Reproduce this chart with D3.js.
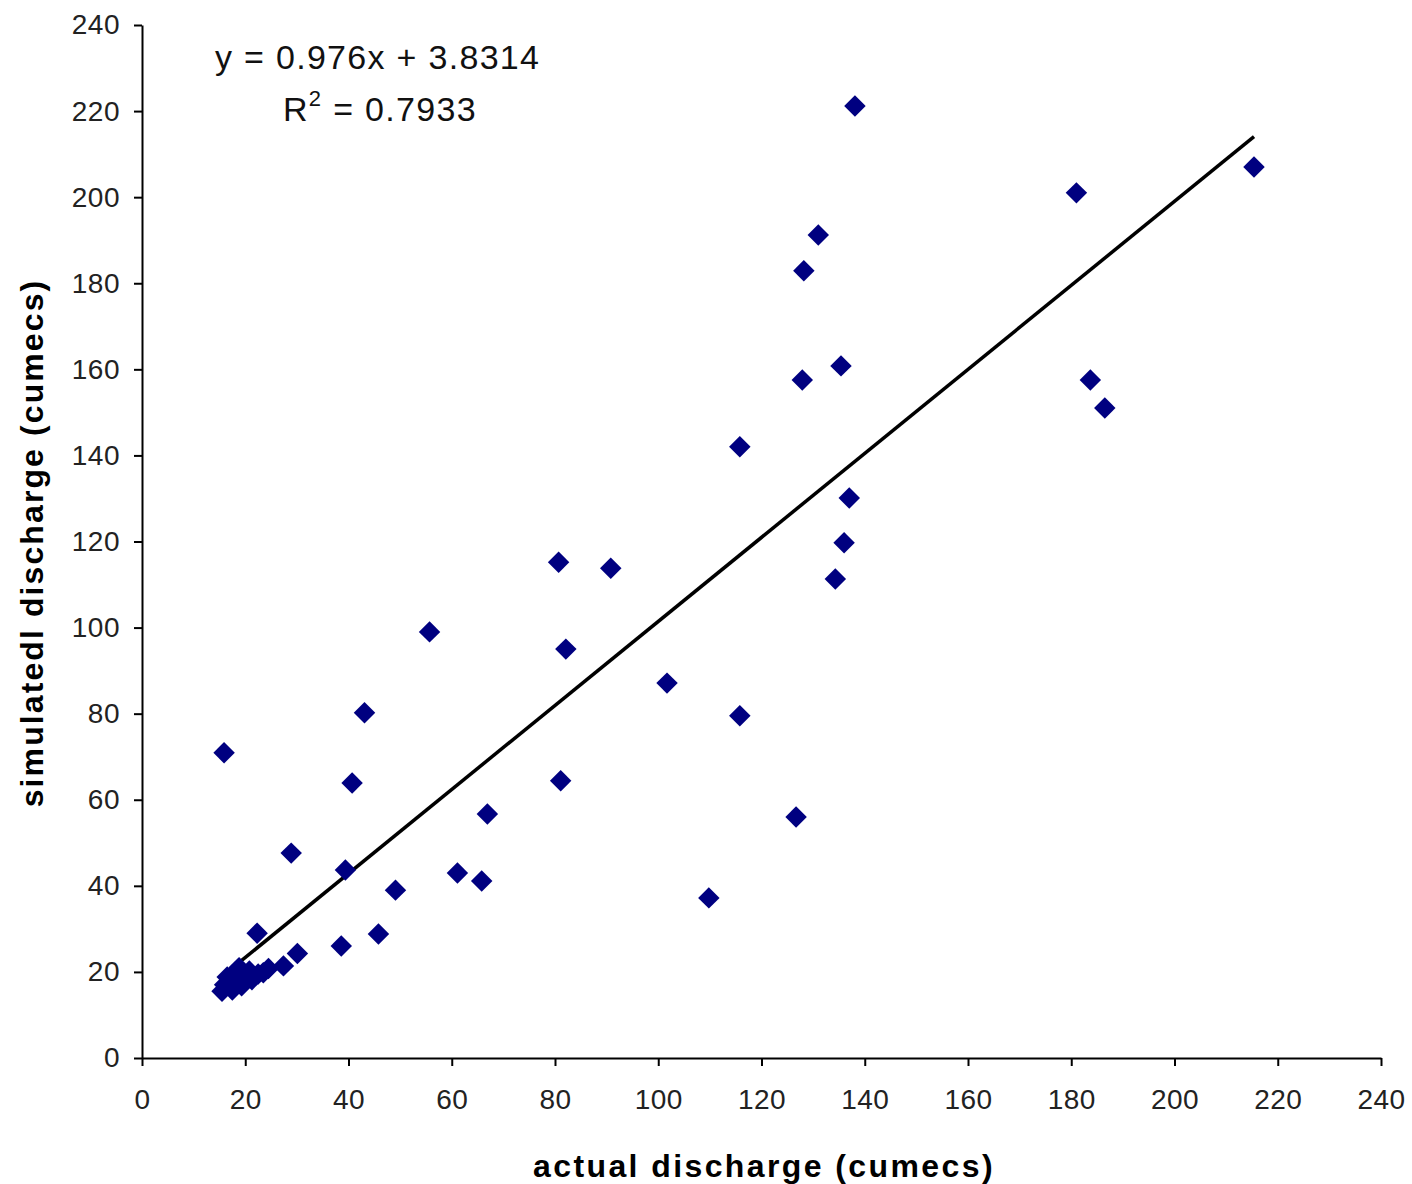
<!DOCTYPE html>
<html><head><meta charset="utf-8">
<script src="https://cdn.jsdelivr.net/npm/d3@7"></script>
<style>body{margin:0;background:#fff}svg{display:block}</style>
</head><body>
<script>
// actual discharge (cumecs)
const actual = [15.9,28.9,39.4,38.6,45.8,49.1,40.7,43.1,55.7,61.1,65.8,66.9,80.7,81.1,82.1,90.8,101.7,109.8,115.8,115.8,126.7,127.9,128.2,131.0,134.3,135.4,136.0,137.0,138.1,181.0,183.7,186.5,215.4,
  15.5,16.0,16.5,17.5,18.0,18.8,19.3,20.0,20.8,21.3,22.5,23.5,24.5,27.4,30.1,22.3];
// simulated discharge (cumecs)
const simulated = [70.9,47.6,43.7,26.0,28.8,39.0,63.9,80.2,99.0,43.0,41.1,56.7,115.2,64.4,95.0,113.8,87.1,37.2,142.0,79.5,56.0,157.5,182.9,191.2,111.3,160.8,119.7,130.1,221.2,201.0,157.5,151.0,207.0,
  15.5,17.0,18.8,15.8,19.5,21.0,16.8,18.5,20.2,18.2,19.5,19.8,20.8,21.4,24.3,29.0];
const xTicks = [0,20,40,60,80,100,120,140,160,180,200,220,240];
const yTicks = [0,20,40,60,80,100,120,140,160,180,200,220,240];
const trendSlope = 0.976, trendIntercept = 3.8314;
const trendRange = [15.5, 215.4];
const eqText = "y = 0.976x + 3.8314";
const r2Value = "0.7933";
const xTitle = "actual discharge (cumecs)";
const yTitle = "simulatedl discharge (cumecs)";

const W = 1412, H = 1184;
const L = 142, R = 1381, T = 25, B = 1058;
const svg = d3.select("body").append("svg").attr("width", W).attr("height", H)
  .style("font-family", "Arial, 'Liberation Sans', sans-serif");

const x = d3.scaleLinear().domain([0, 240]).range([L, R]);
const y = d3.scaleLinear().domain([0, 240]).range([B, T]);

const xAxis = svg.append("g").attr("transform", `translate(0,${B})`)
  .call(d3.axisBottom(x).tickValues(xTicks).tickSize(8).tickSizeOuter(0).tickPadding(16));
const yAxis = svg.append("g").attr("transform", `translate(${L},0)`)
  .call(d3.axisLeft(y).tickValues(yTicks).tickSize(8).tickSizeOuter(0).tickPadding(14));
[xAxis, yAxis].forEach(a => {
  a.select(".domain").attr("stroke", "#000").attr("stroke-width", 2);
  a.selectAll(".tick line").attr("stroke", "#000").attr("stroke-width", 2);
  a.selectAll(".tick text").attr("fill", "#222").style("font-size", "28px").attr("letter-spacing", 0.5);
});
xAxis.selectAll(".tick text").attr("dy", "0.95em");

// trend line
svg.append("line")
  .attr("x1", x(trendRange[0])).attr("y1", y(trendSlope*trendRange[0]+trendIntercept))
  .attr("x2", x(trendRange[1])).attr("y2", y(trendSlope*trendRange[1]+trendIntercept))
  .attr("stroke", "#000").attr("stroke-width", 3.5);

// points
const sym = d3.symbol().type(d3.symbolSquare).size(230);
svg.append("g").selectAll("path").data(actual.map((a,i)=>[a, simulated[i]])).join("path")
  .attr("d", sym)
  .attr("transform", d => `translate(${x(d[0])},${y(d[1])}) rotate(45)`)
  .attr("fill", "#000080");

// equation
svg.append("text").attr("x", 215).attr("y", 69).attr("font-size", 34).attr("letter-spacing", 1.3)
  .attr("fill", "#111").text(eqText);
const r2 = svg.append("text").attr("x", 283).attr("y", 121).attr("font-size", 34).attr("letter-spacing", 1.3).attr("fill", "#111");
r2.append("tspan").text("R");
r2.append("tspan").attr("dy", -15).attr("font-size", 22).text("2");
r2.append("tspan").attr("dy", 15).text(" = " + r2Value);

// titles
svg.append("text").attr("x", 764).attr("y", 1177).attr("text-anchor", "middle")
  .attr("font-size", 32).attr("font-weight", "bold").attr("letter-spacing", 2.4).text(xTitle);
svg.append("text").attr("transform", "translate(43,543) rotate(-90)").attr("text-anchor", "middle")
  .attr("font-size", 32).attr("font-weight", "bold").attr("letter-spacing", 2.1).text(yTitle);
</script>
</body></html>
